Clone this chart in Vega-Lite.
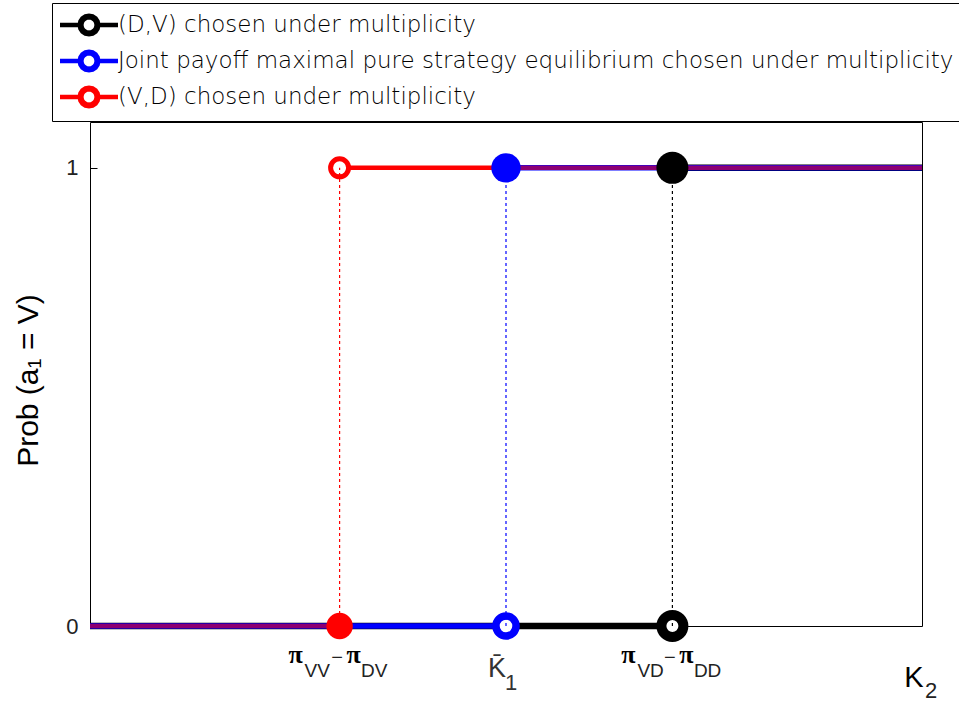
{
  "$schema": "https://vega.github.io/schema/vega-lite/v6.json",
  "width": 832,
  "height": 504,
  "autosize": {"type": "none"},
  "padding": {"left": 90, "top": 122, "right": 37, "bottom": 79},
  "background": "white",
  "config": {
    "view": {"stroke": "black", "strokeWidth": 1},
    "axis": {"grid": false, "domain": false}
  },
  "datasets": {
    "lines": [
      {"series": "(D,V) chosen under multiplicity", "seg": "b0", "x": 0, "y": 0},
      {"series": "(D,V) chosen under multiplicity", "seg": "b0", "x": 7, "y": 0},
      {"series": "(D,V) chosen under multiplicity", "seg": "b1", "x": 7, "y": 1},
      {"series": "(D,V) chosen under multiplicity", "seg": "b1", "x": 10, "y": 1},
      {"series": "Joint payoff maximal pure strategy equilibrium chosen under multiplicity", "seg": "j0", "x": 0, "y": 0},
      {"series": "Joint payoff maximal pure strategy equilibrium chosen under multiplicity", "seg": "j0", "x": 5, "y": 0},
      {"series": "Joint payoff maximal pure strategy equilibrium chosen under multiplicity", "seg": "j1", "x": 5, "y": 1},
      {"series": "Joint payoff maximal pure strategy equilibrium chosen under multiplicity", "seg": "j1", "x": 10, "y": 1},
      {"series": "(V,D) chosen under multiplicity", "seg": "r0", "x": 0, "y": 0},
      {"series": "(V,D) chosen under multiplicity", "seg": "r0", "x": 3, "y": 0},
      {"series": "(V,D) chosen under multiplicity", "seg": "r1", "x": 3, "y": 1},
      {"series": "(V,D) chosen under multiplicity", "seg": "r1", "x": 5, "y": 1},
      {"series": "(V,D) chosen under multiplicity", "seg": "r2", "x": 5, "y": 1},
      {"series": "(V,D) chosen under multiplicity", "seg": "r2", "x": 10, "y": 1}
    ],
    "points": [
      {"series": "(D,V) chosen under multiplicity", "x": 7, "y": 1, "kind": "closed"},
      {"series": "(D,V) chosen under multiplicity", "x": 7, "y": 0, "kind": "open"},
      {"series": "Joint payoff maximal pure strategy equilibrium chosen under multiplicity", "x": 5, "y": 1, "kind": "closed"},
      {"series": "Joint payoff maximal pure strategy equilibrium chosen under multiplicity", "x": 5, "y": 0, "kind": "open"},
      {"series": "(V,D) chosen under multiplicity", "x": 3, "y": 0, "kind": "closed"},
      {"series": "(V,D) chosen under multiplicity", "x": 3, "y": 1, "kind": "open"}
    ],
    "drops": [
      {"series": "(D,V) chosen under multiplicity", "x": 7},
      {"series": "Joint payoff maximal pure strategy equilibrium chosen under multiplicity", "x": 5},
      {"series": "(V,D) chosen under multiplicity", "x": 3}
    ],
    "xlabels": [
      {"x": 3, "pi1": "π", "sub1": "VV", "pi2": "π", "sub2": "DV"},
      {"x": 7, "pi1": "π", "sub1": "VD", "pi2": "π", "sub2": "DD"}
    ],
    "k1": [{"x": 5, "main": "K̄", "sub": "1"}],
    "k2": [{"x": 10, "main": "K", "sub": "2"}]
  },
  "resolve": {"scale": {"size": "independent", "strokeWidth": "independent"}},
  "layer": [
    {
      "data": {"name": "lines"},
      "mark": {"type": "line", "strokeCap": "butt", "fill": "white"},
      "encoding": {
        "x": {
          "field": "x", "type": "quantitative",
          "scale": {"domain": [0, 10], "nice": false, "zero": false},
          "axis": {"values": [3, 5, 7], "labels": false, "tickSize": -7, "tickColor": "black", "title": null}
        },
        "y": {
          "field": "y", "type": "quantitative",
          "scale": {"domain": [0, 1.1], "nice": false},
          "axis": {
            "values": [0, 1], "format": "d", "tickSize": -7, "tickColor": "black",
            "labelFont": "Liberation Sans", "labelFontSize": 22, "labelColor": "#222", "labelPadding": 19,
            "title": "Prob (a₁  = V)", "titleFont": "Liberation Sans", "titleFontSize": 30,
            "titleFontWeight": "normal", "titleColor": "black", "titleX": -62, "titleY": 258,
            "titleAngle": -90, "titleAlign": "center", "titleBaseline": "middle"
          }
        },
        "color": {
          "field": "series", "type": "nominal",
          "scale": {
            "domain": ["(D,V) chosen under multiplicity", "Joint payoff maximal pure strategy equilibrium chosen under multiplicity", "(V,D) chosen under multiplicity"],
            "range": ["#000000", "#0000ff", "#ff0000"]
          },
          "legend": {
            "orient": "none", "legendX": -38, "legendY": -119, "title": null, "direction": "vertical",
            "labelFont": "DejaVu Sans", "labelFontSize": 23, "labelFontWeight": 200, "labelColor": "black",
            "labelLimit": 2000, "labelOffset": 12, "symbolOffset": 15,
            "symbolSize": 841,
            "symbolType": "M-2,0L-0.64,0M0.64,0L2,0M0.64,0L0.591,0.245L0.453,0.453L0.245,0.591L0,0.64L-0.245,0.591L-0.453,0.453L-0.591,0.245L-0.64,0L-0.591,-0.245L-0.453,-0.453L-0.245,-0.591L0,-0.64L0.245,-0.591L0.453,-0.453L0.591,-0.245ZM0.53,0L0.49,-0.203L0.375,-0.375L0.203,-0.49L0,-0.53L-0.203,-0.49L-0.375,-0.375L-0.49,-0.203L-0.53,0L-0.49,0.203L-0.375,0.375L-0.203,0.49L0,0.53L0.203,0.49L0.375,0.375L0.49,0.203Z",
            "symbolStrokeWidth": 4.5, "symbolFillColor": "white",
            "strokeColor": "black", "fillColor": "white", "padding": 5, "rowPadding": -14
          }
        },
        "detail": {"field": "seg", "type": "nominal"},
        "strokeWidth": {
          "field": "series", "type": "nominal",
          "scale": {
            "domain": ["(D,V) chosen under multiplicity", "Joint payoff maximal pure strategy equilibrium chosen under multiplicity", "(V,D) chosen under multiplicity"],
            "range": [6.5, 4.5, 3]
          },
          "legend": null
        },
        "opacity": {
          "condition": {"test": "datum.series == '(V,D) chosen under multiplicity' && (datum.y == 0 || datum.x >= 5)", "value": 0.55},
          "value": 1
        }
      }
    },
    {
      "data": {"name": "points"},
      "transform": [{"filter": "datum.kind == 'closed'"}],
      "mark": {"type": "circle", "opacity": 1},
      "encoding": {
        "x": {"field": "x", "type": "quantitative"},
        "y": {"field": "y", "type": "quantitative"},
        "fill": {
          "field": "series", "type": "nominal",
          "scale": {
            "domain": ["(D,V) chosen under multiplicity", "Joint payoff maximal pure strategy equilibrium chosen under multiplicity", "(V,D) chosen under multiplicity"],
            "range": ["#000000", "#0000ff", "#ff0000"]
          },
          "legend": null
        },
        "size": {
          "field": "series", "type": "nominal",
          "scale": {
            "domain": ["(D,V) chosen under multiplicity", "Joint payoff maximal pure strategy equilibrium chosen under multiplicity", "(V,D) chosen under multiplicity"],
            "range": [1024, 700, 289]
          },
          "legend": null
        }
      }
    },
    {
      "data": {"name": "points"},
      "transform": [{"filter": "datum.kind == 'open'"}],
      "mark": {"type": "point", "shape": "circle", "filled": false, "fill": "white", "fillOpacity": 1, "opacity": 1},
      "encoding": {
        "x": {"field": "x", "type": "quantitative"},
        "y": {"field": "y", "type": "quantitative"},
        "stroke": {
          "field": "series", "type": "nominal",
          "scale": {
            "domain": ["(D,V) chosen under multiplicity", "Joint payoff maximal pure strategy equilibrium chosen under multiplicity", "(V,D) chosen under multiplicity"],
            "range": ["#000000", "#0000ff", "#ff0000"]
          },
          "legend": null
        },
        "size": {
          "field": "series", "type": "nominal",
          "scale": {
            "domain": ["(D,V) chosen under multiplicity", "Joint payoff maximal pure strategy equilibrium chosen under multiplicity", "(V,D) chosen under multiplicity"],
            "range": [484, 324, 225]
          },
          "legend": null
        },
        "strokeWidth": {
          "field": "series", "type": "nominal",
          "scale": {
            "domain": ["(D,V) chosen under multiplicity", "Joint payoff maximal pure strategy equilibrium chosen under multiplicity", "(V,D) chosen under multiplicity"],
            "range": [10, 5, 3]
          },
          "legend": null
        }
      }
    },
    {
      "data": {"name": "drops"},
      "mark": {"type": "rule", "strokeDash": [3, 3], "strokeWidth": 1.2},
      "encoding": {
        "x": {"field": "x", "type": "quantitative"},
        "y": {"datum": 0},
        "y2": {"datum": 1},
        "stroke": {"field": "series", "type": "nominal", "legend": null}
      }
    },
    {
      "data": {"name": "xlabels"},
      "mark": {"type": "text", "font": "Liberation Serif", "fontWeight": "bold", "fontSize": 26, "align": "center", "baseline": "alphabetic", "dx": -44, "dy": 37, "color": "black"},
      "encoding": {"x": {"field": "x", "type": "quantitative"}, "y": {"datum": 0}, "text": {"field": "pi1"}}
    },
    {
      "data": {"name": "xlabels"},
      "mark": {"type": "text", "font": "Liberation Serif", "fontWeight": "bold", "fontSize": 26, "align": "center", "baseline": "alphabetic", "dx": 14, "dy": 37, "color": "black"},
      "encoding": {"x": {"field": "x", "type": "quantitative"}, "y": {"datum": 0}, "text": {"field": "pi2"}}
    },
    {
      "data": {"name": "xlabels"},
      "mark": {"type": "text", "font": "Liberation Sans", "fontSize": 19, "align": "left", "baseline": "alphabetic", "dx": -35, "dy": 51, "color": "#222"},
      "encoding": {"x": {"field": "x", "type": "quantitative"}, "y": {"datum": 0}, "text": {"field": "sub1"}}
    },
    {
      "data": {"name": "xlabels"},
      "mark": {"type": "text", "font": "Liberation Sans", "fontSize": 19, "align": "left", "baseline": "alphabetic", "dx": 21.5, "dy": 51, "color": "#222"},
      "encoding": {"x": {"field": "x", "type": "quantitative"}, "y": {"datum": 0}, "text": {"field": "sub2"}}
    },
    {
      "data": {"name": "xlabels"},
      "mark": {"type": "text", "font": "Liberation Sans", "fontSize": 20, "align": "center", "baseline": "alphabetic", "dx": -2.5, "dy": 38, "color": "#222", "text": "−"},
      "encoding": {"x": {"field": "x", "type": "quantitative"}, "y": {"datum": 0}}
    },
    {
      "data": {"name": "k1"},
      "mark": {"type": "text", "font": "Liberation Sans", "fontSize": 27, "align": "center", "baseline": "alphabetic", "dx": -9, "dy": 51, "color": "#333"},
      "encoding": {"x": {"field": "x", "type": "quantitative"}, "y": {"datum": 0}, "text": {"field": "main"}}
    },
    {
      "data": {"name": "k1"},
      "mark": {"type": "text", "font": "Liberation Sans", "fontSize": 22, "align": "center", "baseline": "alphabetic", "dx": 5, "dy": 64, "color": "#333"},
      "encoding": {"x": {"field": "x", "type": "quantitative"}, "y": {"datum": 0}, "text": {"field": "sub"}}
    },
    {
      "data": {"name": "k2"},
      "mark": {"type": "text", "font": "Liberation Sans", "fontSize": 29, "align": "center", "baseline": "alphabetic", "dx": -8, "dy": 61, "color": "black"},
      "encoding": {"x": {"field": "x", "type": "quantitative"}, "y": {"datum": 0}, "text": {"field": "main"}}
    },
    {
      "data": {"name": "k2"},
      "mark": {"type": "text", "font": "Liberation Sans", "fontSize": 22, "align": "center", "baseline": "alphabetic", "dx": 9, "dy": 72, "color": "#222"},
      "encoding": {"x": {"field": "x", "type": "quantitative"}, "y": {"datum": 0}, "text": {"field": "sub"}}
    }
  ]
}
